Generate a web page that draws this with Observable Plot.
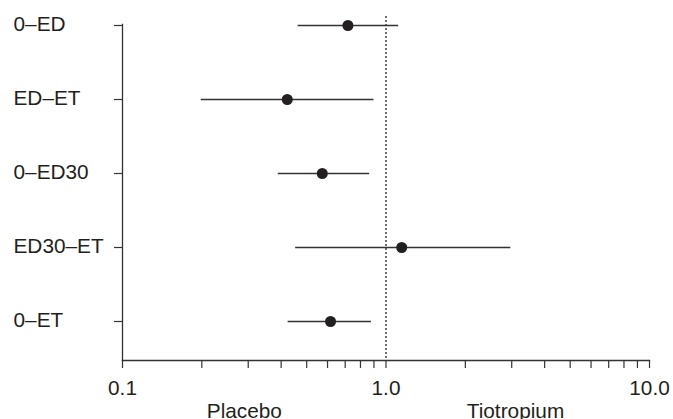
<!DOCTYPE html>
<html>
<head>
<meta charset="utf-8">
<script src="https://cdn.jsdelivr.net/npm/d3@7"></script>
<script src="https://cdn.jsdelivr.net/npm/@observablehq/plot@0.6"></script>
<style>
  html, body { margin: 0; padding: 0; background: #fff; }
</style>
</head>
<body>
<div id="chart"></div>
<script>
const categories = ["0\u2013ED", "ED\u2013ET", "0\u2013ED30", "ED30\u2013ET", "0\u2013ET"];
const estimates = [0.717, 0.422, 0.573, 1.147, 0.616];
const lower = [0.464, 0.199, 0.390, 0.454, 0.425];
const upper = [1.117, 0.900, 0.867, 2.976, 0.880];
const majorTicks = [0.1, 1, 10];
const majorLabels = ["0.1", "1.0", "10.0"];
const minorTicks = [0.2, 0.3, 0.4, 0.5, 0.6, 0.7, 0.8, 0.9, 2, 3, 4, 5, 6, 7, 8, 9];
const sideLabels = ["Placebo", "Tiotropium"];
const sidePositions = [0.29, 3.1];
const referenceValue = [1];

const rows = categories.map((c, i) => ({label: c, est: estimates[i], lo: lower[i], hi: upper[i]}));
const sides = sideLabels.map((t, i) => ({text: t, x: sidePositions[i]}));
const allTicks = majorTicks.concat(minorTicks);
const fmt = d => { const i = majorTicks.indexOf(d); return i >= 0 ? majorLabels[i] : ""; };

const ink = "#231f20";

const chart = Plot.plot({
  width: 673,
  height: 419,
  marginLeft: 122,
  marginRight: 24,
  marginTop: 24,
  marginBottom: 59,
  style: {fontFamily: "'Liberation Sans', Arial, sans-serif", fontSize: "20.8px", color: ink, background: "#fff", overflow: "visible"},
  x: {type: "log", domain: [0.1, 10], axis: null},
  y: {type: "point", domain: categories, range: [24, 321], padding: 0, axis: null},
  marks: [
    Plot.frame({anchor: "left", stroke: "#333", strokeWidth: 1.3}),
    Plot.frame({anchor: "bottom", stroke: "#333", strokeWidth: 1.3}),
    Plot.axisX(allTicks, {tickSize: 8, tickPadding: 12, tickFormat: fmt, stroke: "#333", strokeWidth: 1.2, fill: ink, label: null}),
    Plot.axisY(categories, {tickSize: 8, tickFormat: () => "", stroke: "#333", strokeWidth: 1.2, label: null}),
    Plot.text(categories, {y: d => d, frameAnchor: "left", textAnchor: "start", dx: -109, dy: -1, fill: ink}),
    Plot.ruleX(referenceValue, {stroke: "#111", strokeWidth: 1.2, strokeDasharray: "2,2", insetTop: -8}),
    Plot.ruleY(rows, {y: "label", x1: "lo", x2: "hi", stroke: "#333", strokeWidth: 1.3}),
    Plot.dot(rows, {y: "label", x: "est", r: 5.5, fill: ink, stroke: "none"}),
    Plot.text(sides, {x: "x", text: "text", frameAnchor: "bottom", lineAnchor: "top", dy: 43, fill: ink})
  ]
});
document.getElementById("chart").appendChild(chart);
</script>
</body>
</html>
